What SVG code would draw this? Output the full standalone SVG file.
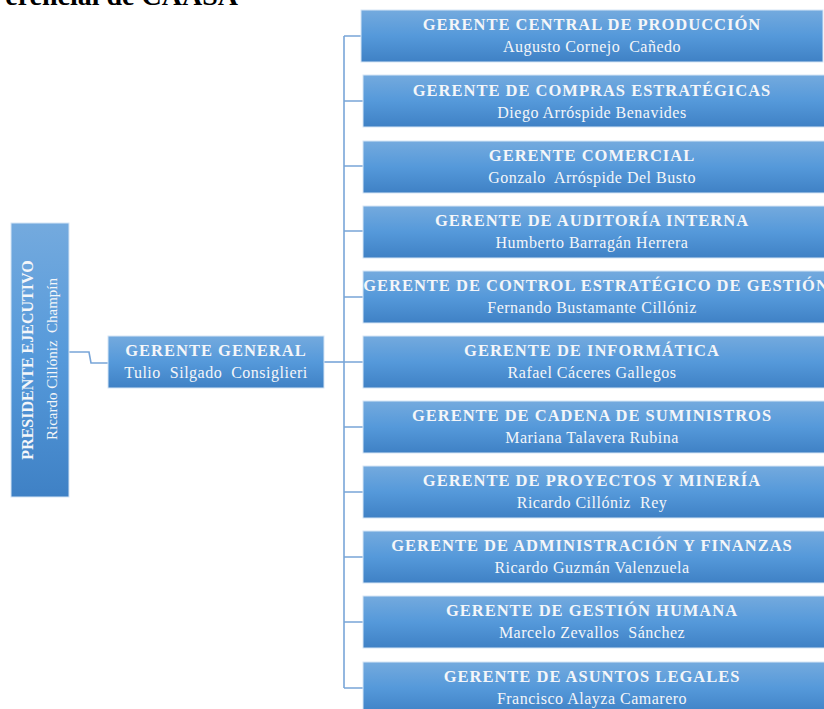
<svg xmlns="http://www.w3.org/2000/svg" width="824" height="709" viewBox="0 0 824 709">
<defs>
<linearGradient id="g" x1="0" y1="0" x2="0" y2="1">
<stop offset="0" stop-color="#74aade"/>
<stop offset="0.5" stop-color="#5599da"/>
<stop offset="1" stop-color="#3f81c5"/>
</linearGradient>
<style>
.box{fill:url(#g);stroke:#d6e5f5;stroke-width:1}
.t{font-family:"Liberation Serif",serif;font-weight:bold;font-size:16.5px;letter-spacing:1px;fill:#f4f6f9;text-anchor:middle;white-space:pre}
.n{font-family:"Liberation Serif",serif;font-size:16px;letter-spacing:0.5px;fill:#f4f6f9;text-anchor:middle;white-space:pre}
.c{fill:none;stroke:#78a5d8;stroke-width:1.6}
</style>
</defs>
<text x="238" y="5" font-family="Liberation Serif,serif" font-weight="bold" font-size="28" text-anchor="end" fill="#000">erencial de CAASA</text>
<g id="connectors">
<path class="c" d="M69,352 H89 L91,363 H108"/>
<path class="c" d="M324,362 H344"/>
<path class="c" d="M344,36 V688"/>
<path class="c" d="M344,36 H361 M344,101 H363 M344,166 H363 M344,231 H363 M344,297 H363 M344,362 H363 M344,427 H363 M344,492 H363 M344,557 H363 M344,622 H363 M344,688 H363"/>
</g>
<g id="presidente">
<rect class="box" x="11" y="223" width="58" height="274"/>
<text class="t" style="font-size:16px;letter-spacing:0" transform="rotate(-90 33 360)" x="33" y="360">PRESIDENTE EJECUTIVO</text>
<text class="n" style="font-size:15px;letter-spacing:0" transform="rotate(-90 57 359)" x="57" y="359">Ricardo Cillóniz  Champín</text>
</g>
<g id="gerente-general">
<rect class="box" x="108" y="336" width="216" height="52"/>
<text class="t" x="216" y="356">GERENTE GENERAL</text>
<text class="n" x="216" y="378">Tulio  Silgado  Consiglieri</text>
</g>
<g id="g1">
<rect class="box" x="361" y="10" width="462" height="52"/>
<text class="t" x="592" y="30">GERENTE CENTRAL DE PRODUCCIÓN</text>
<text class="n" x="592" y="52">Augusto Cornejo  Cañedo</text>
</g>
<g id="g2">
<rect class="box" x="363" y="75" width="462" height="52"/>
<text class="t" x="592" y="96">GERENTE DE COMPRAS ESTRATÉGICAS</text>
<text class="n" x="592" y="118">Diego Arróspide Benavides</text>
</g>
<g id="g3">
<rect class="box" x="363" y="141" width="462" height="52"/>
<text class="t" x="592" y="161">GERENTE COMERCIAL</text>
<text class="n" x="592" y="183">Gonzalo  Arróspide Del Busto</text>
</g>
<g id="g4">
<rect class="box" x="363" y="206" width="462" height="52"/>
<text class="t" x="592" y="226">GERENTE DE AUDITORÍA INTERNA</text>
<text class="n" x="592" y="248">Humberto Barragán Herrera</text>
</g>
<g id="g5">
<rect class="box" x="363" y="271" width="462" height="52"/>
<text class="t" x="596" y="291">GERENTE DE CONTROL ESTRATÉGICO DE GESTIÓN</text>
<text class="n" x="592" y="313">Fernando Bustamante Cillóniz</text>
</g>
<g id="g6">
<rect class="box" x="363" y="336" width="462" height="52"/>
<text class="t" x="592" y="356">GERENTE DE INFORMÁTICA</text>
<text class="n" x="592" y="378">Rafael Cáceres Gallegos</text>
</g>
<g id="g7">
<rect class="box" x="363" y="401" width="462" height="52"/>
<text class="t" x="592" y="421">GERENTE DE CADENA DE SUMINISTROS</text>
<text class="n" x="592" y="443">Mariana Talavera Rubina</text>
</g>
<g id="g8">
<rect class="box" x="363" y="466" width="462" height="52"/>
<text class="t" x="592" y="486">GERENTE DE PROYECTOS Y MINERÍA</text>
<text class="n" x="592" y="508">Ricardo Cillóniz  Rey</text>
</g>
<g id="g9">
<rect class="box" x="363" y="531" width="462" height="52"/>
<text class="t" x="592" y="551">GERENTE DE ADMINISTRACIÓN Y FINANZAS</text>
<text class="n" x="592" y="573">Ricardo Guzmán Valenzuela</text>
</g>
<g id="g10">
<rect class="box" x="363" y="596" width="462" height="52"/>
<text class="t" x="592" y="616">GERENTE DE GESTIÓN HUMANA</text>
<text class="n" x="592" y="638">Marcelo Zevallos  Sánchez</text>
</g>
<g id="g11">
<rect class="box" x="363" y="662" width="462" height="52"/>
<text class="t" x="592" y="682">GERENTE DE ASUNTOS LEGALES</text>
<text class="n" x="592" y="704">Francisco Alayza Camarero</text>
</g>
</svg>
